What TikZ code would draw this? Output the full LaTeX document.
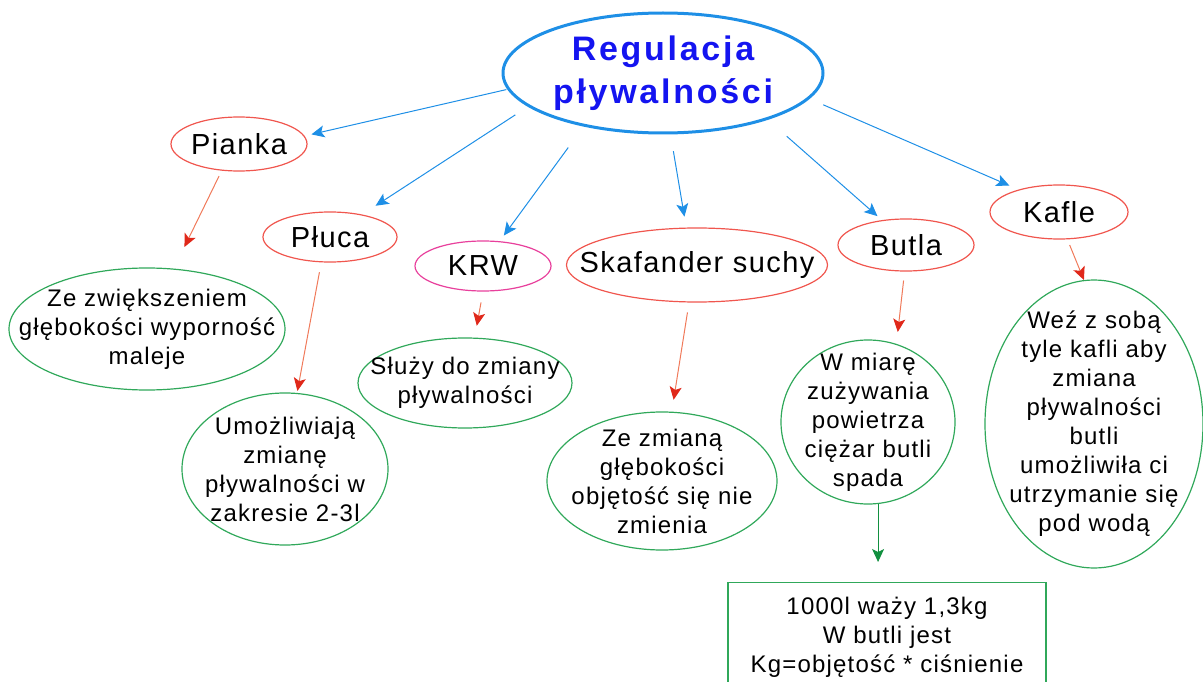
\documentclass[tikz,border=0pt]{standalone}
\usepackage{fontspec}
\setmainfont{Liberation Sans}[LetterSpace=5]
\newfontfamily\titlefont[LetterSpace=8]{Liberation Sans}
\usepackage{tikz}
\usetikzlibrary{arrows.meta,shapes.geometric}
\definecolor{mapblue}{HTML}{1E8FE6}
\definecolor{titleblue}{HTML}{1414F0}
\definecolor{topicred}{HTML}{F0564E}
\definecolor{topicpink}{HTML}{E8409C}
\definecolor{notegreen}{HTML}{30A85A}
\definecolor{linkred}{HTML}{F07A5A}
\definecolor{headred}{HTML}{E0281A}
\definecolor{linkgreen}{HTML}{129040}
\newcommand{\bodysize}{\fontsize{24}{29}\selectfont}
\newcommand{\topicsize}{\fontsize{29}{34}\selectfont}

\begin{document}
\begin{tikzpicture}[x=1pt,y=-1pt,
  topic/.style={ellipse,draw=topicred,line width=1.2pt,inner sep=0pt,
    label={[font=\topicsize]center:#1}},
  note/.style={ellipse,draw=notegreen,line width=1.2pt,inner sep=0pt,
    label={[align=center,font=\bodysize]center:#1}},
  branch/.style={draw=mapblue,line width=1pt,-{Stealth[length=13pt,width=12pt,inset=3pt]}},
  detail/.style={draw=linkred,line width=1pt,-{Stealth[length=13pt,width=12pt,inset=3pt,color=headred]}}]
  \useasboundingbox (0,0) rectangle (1203,682);
  \clip (0,0) rectangle (1203,682);
  % root
  \node[ellipse,draw=mapblue,line width=3pt,inner sep=0pt,minimum width=320pt,minimum height=120pt,
        label={[align=center,text=titleblue,font=\titlefont\bfseries\fontsize{34}{43}\selectfont]center:Regulacja\\pływalności}]
        (title) at (663,73) {};
  % topics
  \node[topic=Pianka,minimum width=136pt,minimum height=54pt] (pianka) at (239,144) {};
  \node[topic=Płuca,minimum width=134pt,minimum height=50pt] (pluca) at (330,237) {};
  \node[topic=KRW,draw=topicpink,minimum width=136pt,minimum height=50pt] (krw) at (483,266) {};
  \node[topic=Skafander suchy,minimum width=261pt,minimum height=74pt] (skafander) at (697,265) {};
  \node[topic=Butla,minimum width=136pt,minimum height=52pt] (butla) at (906,245) {};
  \node[topic=Kafle,minimum width=138pt,minimum height=54pt] (kafle) at (1059,212) {};
  % notes
  \node[note={Ze zwiększeniem\\głębokości wyporność\\maleje},minimum width=276pt,minimum height=122pt] (zezw) at (147,329) {};
  \node[note={Umożliwiają\\zmianę\\pływalności w\\zakresie 2-3l},minimum width=206pt,minimum height=152pt] (umozl) at (285,469) {};
  \node[note={Służy do zmiany\\pływalności},minimum width=214pt,minimum height=90pt] (sluzy) at (465,383) {};
  \node[note={Ze zmianą\\głębokości\\objętość się nie\\zmienia},minimum width=230pt,minimum height=138pt] (zezm) at (662,481) {};
  \node[note={W miarę\\zużywania\\powietrza\\ciężar butli\\spada},minimum width=174pt,minimum height=164pt] (wmiare) at (868,422) {};
  \node[note={Weź z sobą\\tyle kafli aby\\zmiana\\pływalności\\butli\\umożliwiła ci\\utrzymanie się\\pod wodą},minimum width=218pt,minimum height=288pt] (wez) at (1094,424) {};
  \node[draw=notegreen,line width=1.2pt,anchor=north,minimum width=318pt,minimum height=110pt,align=center,font=\bodysize]
        (waga) at (887,582) {1000l waży 1,3kg\\W butli jest\\Kg=objętość * ciśnienie};
  % root -> topics
  \draw[branch,shorten <=1pt,shorten >=7pt] (title.186) -- (pianka.7);
  \draw[branch,shorten <=15pt,shorten >=16pt] (title.194) -- (pluca.35);
  \draw[branch,shorten <=26pt,shorten >=7pt] (title.214) -- (krw.56);
  \draw[branch,shorten <=17pt,shorten >=11pt] (title.277) -- (skafander.106);
  \draw[branch,shorten <=25pt,shorten >=6pt] (title.336) -- (butla.134);
  \draw[branch,shorten <=15pt,shorten >=10pt] (title.350) -- (kafle.151);
  % topics -> notes
  \draw[detail,shorten <=6pt,shorten >=24pt] (pianka.237) -- (zezw.66);
  \draw[detail,shorten <=10pt,shorten >=2pt] (pluca.251) -- (umozl.81);
  \draw[detail,shorten <=11pt,shorten >=12pt] (krw.270) -- (sluzy.78);
  \draw[detail,shorten <=10pt,shorten >=12pt] (skafander.258) -- (zezm.82);
  \draw[detail,shorten <=9pt,shorten >=12pt] (butla.267) -- (wmiare.70);
  \draw[detail,shorten <=6pt] (kafle.287) -- (wez.94);
  \draw[draw=linkgreen,line width=1pt,-{Stealth[length=13pt,width=12pt,inset=3pt]},shorten >=20pt]
        (wmiare.277) -- (wmiare.277 |- waga.north);
\end{tikzpicture}
\end{document}
